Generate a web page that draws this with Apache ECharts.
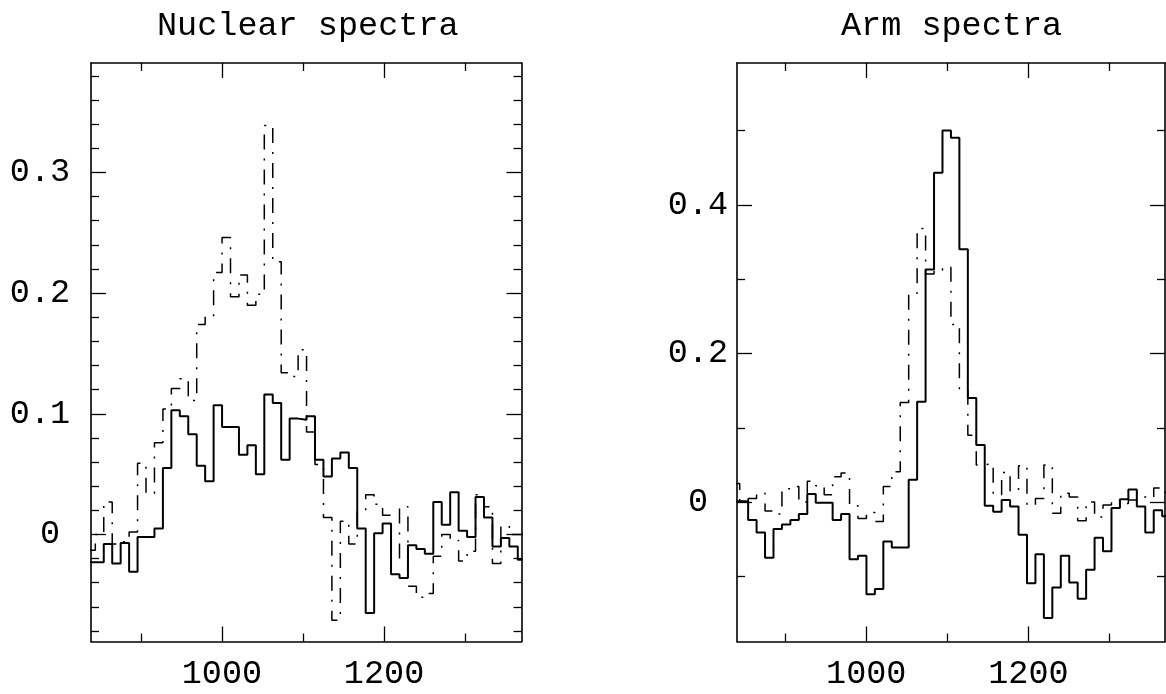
<!DOCTYPE html>
<html>
<head>
<meta charset="utf-8">
<script src="https://cdn.jsdelivr.net/npm/echarts@6.0.0/dist/echarts.min.js"></script>
<style>
html, body { margin: 0; padding: 0; background: #ffffff; }
#chart { width: 1166px; height: 694px; }
</style>
</head>
<body>
<div id="chart"></div>
<script>
// ---- data ----
const panelTitles = ['Nuclear spectra', 'Arm spectra'];
const binStart = 833.5;   // left edge of first channel
const binWidth = 10.42;   // channel width

const nuclearSolid = [-0.023, -0.023, -0.008, -0.024, -0.007, -0.031, -0.002, -0.002, 0.005, 0.055,
  0.103, 0.098, 0.083, 0.057, 0.044, 0.107, 0.089, 0.089, 0.066, 0.074,
  0.050, 0.116, 0.109, 0.062, 0.096, 0.095, 0.098, 0.062, 0.048, 0.063,
  0.068, 0.055, 0.005, -0.065, 0.001, 0.009, -0.033, -0.036, -0.009, -0.012,
  -0.016, 0.027, 0.008, 0.035, 0.003, -0.002, 0.031, 0.014, -0.010, -0.003,
  -0.010, -0.021];
const nuclearDashDot = [-0.013, 0.000, 0.027, -0.008, -0.006, 0.002, 0.059, 0.034, 0.076, 0.104,
  0.121, 0.129, 0.111, 0.174, 0.181, 0.217, 0.246, 0.197, 0.215, 0.190,
  0.199, 0.339, 0.226, 0.134, 0.131, 0.153, 0.085, 0.058, 0.014, -0.071,
  0.011, -0.008, 0.020, 0.033, 0.025, 0.016, -0.021, 0.023, -0.043, -0.052,
  -0.049, -0.018, 0.000, -0.005, -0.022, -0.014, 0.033, 0.023, -0.024, 0.007,
  0.000, 0.000];
const armSolid = [0.001, 0.001, -0.024, -0.041, -0.075, -0.036, -0.030, -0.024, -0.016, 0.011,
  -0.001, -0.001, -0.024, -0.016, -0.077, -0.072, -0.124, -0.117, -0.053, -0.061,
  -0.061, 0.030, 0.135, 0.313, 0.443, 0.500, 0.490, 0.340, 0.140, 0.077,
  -0.005, -0.013, 0.003, -0.006, -0.044, -0.109, -0.070, -0.156, -0.115, -0.072,
  -0.108, -0.130, -0.091, -0.048, -0.066, -0.008, 0.004, 0.017, -0.006, -0.041,
  -0.011, -0.019];
const armDashDot = [0.025, 0.001, 0.005, 0.012, -0.012, -0.016, 0.018, 0.021, 0.000, 0.028,
  0.022, 0.010, 0.034, 0.039, -0.005, -0.022, -0.014, -0.026, 0.021, 0.041,
  0.134, 0.281, 0.368, 0.307, 0.312, 0.316, 0.239, 0.150, 0.090, 0.050,
  0.052, 0.010, 0.040, 0.015, 0.049, -0.004, 0.005, 0.050, -0.015, 0.012,
  0.007, -0.025, 0.000, -0.020, -0.004, 0.002, -0.002, 0.003, 0.007, 0.005,
  0.019, 0.013];

const xMajorTicks = [1000, 1200];
const xMinorTicks = [900, 1100, 1300];
const nuclearYMajor = [0, 0.1, 0.2, 0.3];
const nuclearYMinor = [-0.08, -0.06, -0.04, -0.02, 0.02, 0.04, 0.06, 0.08, 0.12, 0.14, 0.16, 0.18,
  0.22, 0.24, 0.26, 0.28, 0.32, 0.34, 0.36, 0.38];
const armYMajor = [0, 0.2, 0.4];
const armYMinor = [-0.1, 0.1, 0.3, 0.5];

// ---- helpers ----
function steps(values) {
  const pts = values.map((v, i) => [binStart + i * binWidth, v]);
  pts.push([binStart + values.length * binWidth, values[values.length - 1]]);
  return pts;
}

const FONT = 'Liberation Mono';
const FS = 33.5;
const INK = '#000000';

const panels = [
  { grid: { left: 91, top: 63, width: 430.5, height: 578.5 },
    xMin: 838.6, xMax: 1369.5, yMin: -0.0887, yMax: 0.3907,
    yMajor: nuclearYMajor, yMinor: nuclearYMinor, labelMargin: 51, zeroPad: 20,
    solid: nuclearSolid, dash: nuclearDashDot },
  { grid: { left: 737, top: 63, width: 428, height: 578.5 },
    xMin: 840.6, xMax: 1368.4, yMin: -0.1875, yMax: 0.5907,
    yMajor: armYMajor, yMinor: armYMinor, labelMargin: 39, zeroPad: 0,
    solid: armSolid, dash: armDashDot }
];

const xAxis = [], yAxis = [], series = [], grid = [];
const lineSt = { color: INK, width: 1.6 };
const tickSt = { color: INK, width: 1.3 };

panels.forEach((p, gi) => {
  grid.push(Object.assign({ containLabel: false }, p.grid));
  const xb = { type: 'value', gridIndex: gi, min: p.xMin, max: p.xMax, splitLine: { show: false } };
  const xi = xAxis.length;
  xAxis.push(Object.assign({}, xb, { position: 'bottom',
    axisLine: { show: true, onZero: false, lineStyle: lineSt },
    axisTick: { show: true, inside: true, length: 15, customValues: xMajorTicks, lineStyle: tickSt },
    axisLabel: { show: true, customValues: xMajorTicks, margin: 16, color: INK, fontFamily: FONT, fontSize: FS,
      formatter: v => String(v) } }));
  xAxis.push(Object.assign({}, xb, { position: 'bottom',
    axisLine: { show: false, onZero: false },
    axisTick: { show: true, inside: true, length: 8, customValues: xMinorTicks, lineStyle: tickSt },
    axisLabel: { show: false } }));
  xAxis.push(Object.assign({}, xb, { position: 'top',
    axisLine: { show: true, onZero: false, lineStyle: lineSt },
    axisTick: { show: true, inside: true, length: 15, customValues: xMajorTicks, lineStyle: tickSt },
    axisLabel: { show: false } }));
  xAxis.push(Object.assign({}, xb, { position: 'top',
    axisLine: { show: false, onZero: false },
    axisTick: { show: true, inside: true, length: 8, customValues: xMinorTicks, lineStyle: tickSt },
    axisLabel: { show: false } }));

  const yb = { type: 'value', gridIndex: gi, min: p.yMin, max: p.yMax, splitLine: { show: false } };
  const yi = yAxis.length;
  yAxis.push(Object.assign({}, yb, { position: 'left',
    axisLine: { show: true, onZero: false, lineStyle: lineSt },
    axisTick: { show: true, inside: true, length: 15, customValues: p.yMajor, lineStyle: tickSt },
    axisLabel: { show: true, customValues: p.yMajor, margin: p.labelMargin, align: 'center',
      color: INK, fontFamily: FONT, fontSize: FS,
      formatter: v => (v === 0 && p.zeroPad) ? '{z|0}' : String(v),
      rich: { z: { padding: [0, 0, 0, p.zeroPad], fontFamily: FONT, fontSize: FS, color: INK } } } }));
  yAxis.push(Object.assign({}, yb, { position: 'left',
    axisLine: { show: false, onZero: false },
    axisTick: { show: true, inside: true, length: 8, customValues: p.yMinor, lineStyle: tickSt },
    axisLabel: { show: false } }));
  yAxis.push(Object.assign({}, yb, { position: 'right',
    axisLine: { show: true, onZero: false, lineStyle: lineSt },
    axisTick: { show: true, inside: true, length: 15, customValues: p.yMajor, lineStyle: tickSt },
    axisLabel: { show: false } }));
  yAxis.push(Object.assign({}, yb, { position: 'right',
    axisLine: { show: false, onZero: false },
    axisTick: { show: true, inside: true, length: 8, customValues: p.yMinor, lineStyle: tickSt },
    axisLabel: { show: false } }));

  series.push({ type: 'line', name: panelTitles[gi] + ' (solid)', xAxisIndex: xi, yAxisIndex: yi,
    data: steps(p.solid), step: 'end', showSymbol: false, symbol: 'none', clip: true,
    lineStyle: { color: INK, width: 2 }, z: 3 });
  series.push({ type: 'line', name: panelTitles[gi] + ' (dash-dot)', xAxisIndex: xi, yAxisIndex: yi,
    data: steps(p.dash), step: 'end', showSymbol: false, symbol: 'none', clip: true,
    lineStyle: { color: INK, width: 1.5, type: [15, 9, 2, 9] }, z: 2 });
});

const chart = echarts.init(document.getElementById('chart'), null, { renderer: 'canvas' });
chart.setOption({
  backgroundColor: '#ffffff',
  animation: false,
  title: [
    { text: panelTitles[0], left: 152, top: 4, textStyle: { fontFamily: FONT, fontSize: FS, fontWeight: 'normal', color: INK } },
    { text: panelTitles[1], left: 836, top: 4, textStyle: { fontFamily: FONT, fontSize: FS, fontWeight: 'normal', color: INK } }
  ],
  grid: grid,
  xAxis: xAxis,
  yAxis: yAxis,
  series: series
});
</script>
</body>
</html>
